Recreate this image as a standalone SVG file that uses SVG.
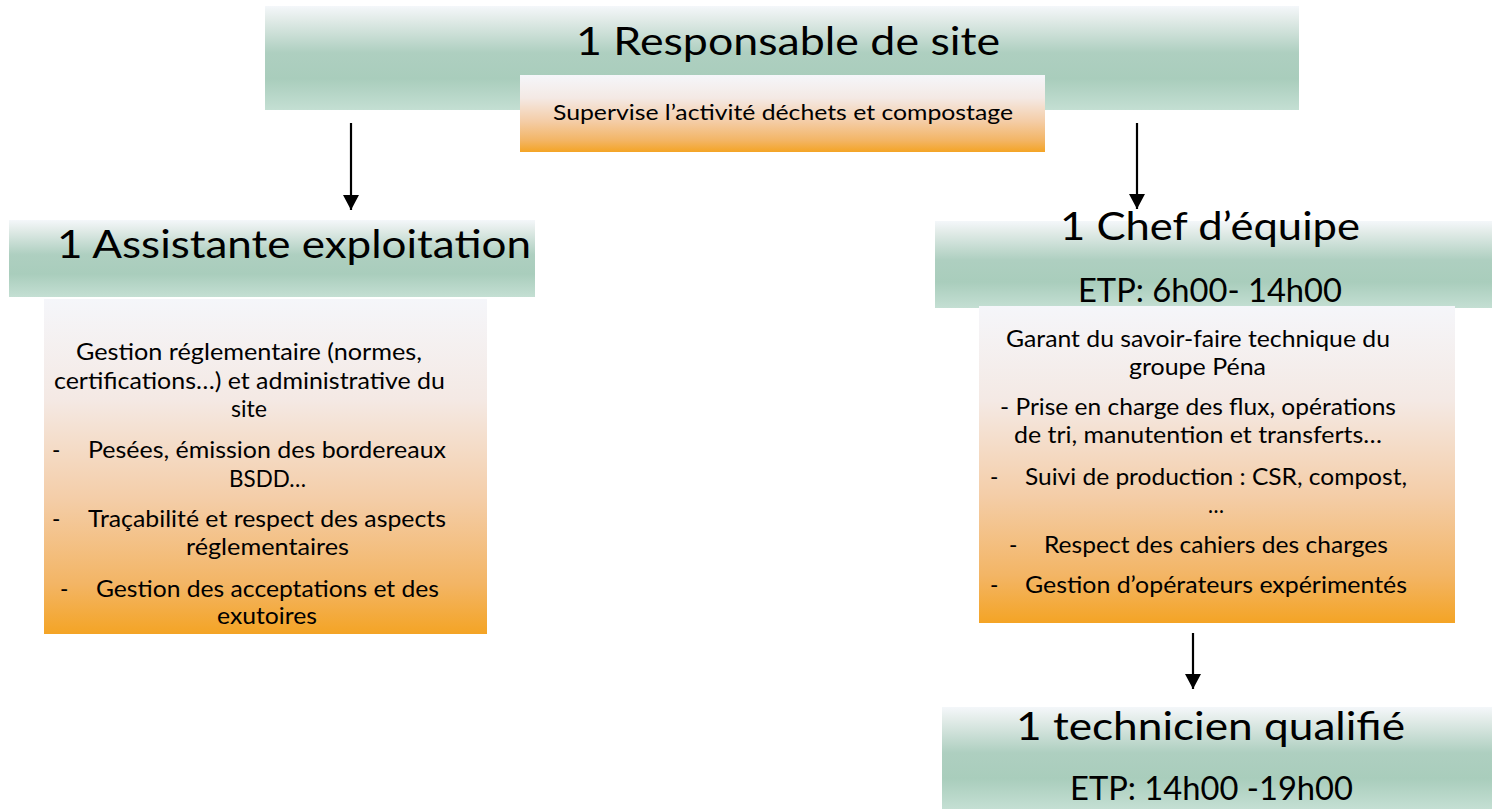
<svg xmlns="http://www.w3.org/2000/svg" width="1492" height="809" viewBox="0 0 1492 809">
<defs>
<linearGradient id="green" x1="0" y1="0" x2="0" y2="1">
<stop offset="0" stop-color="#f4f7fa"/>
<stop offset="0.12" stop-color="#e3ece9"/>
<stop offset="0.45" stop-color="#aecfc0"/>
<stop offset="0.7" stop-color="#a9cdbc"/>
<stop offset="1" stop-color="#c4dfd3"/>
</linearGradient>
<linearGradient id="orange" x1="0" y1="0" x2="0" y2="1">
<stop offset="0" stop-color="#f5f6fa"/>
<stop offset="0.3" stop-color="#f4e9e4"/>
<stop offset="0.6" stop-color="#f4cda7"/>
<stop offset="0.85" stop-color="#f3b565"/>
<stop offset="1" stop-color="#f4a425"/>
</linearGradient>
<marker id="arrow" markerWidth="15" markerHeight="16" refX="15" refY="8" orient="auto" markerUnits="userSpaceOnUse" viewBox="0 0 15 16">
<path d="M0,0 L15,8 L0,16 Z" fill="#000"/>
</marker>
</defs>
<style>
text{font-family:Lato,"Open Sans","Liberation Sans",sans-serif;fill:#000;}
.h{font-size:38px;}
.h2{font-size:32px;}
.b{font-size:22.5px;}
.s{font-size:21px;}
.conn{stroke:#000;stroke-width:2.2;fill:none;}
</style>
<rect width="1492" height="809" fill="#fff"/>

<g id="responsable">
<rect x="265" y="6" width="1034" height="104" fill="url(#green)"/>
<text class="h" x="576" y="55" textLength="424" lengthAdjust="spacingAndGlyphs">1 Responsable de site</text>
</g>
<g id="supervise">
<rect x="520" y="75" width="525" height="77" fill="url(#orange)"/>
<text class="s" x="553" y="120" textLength="460" lengthAdjust="spacingAndGlyphs">Supervise l’activité déchets et compostage</text>
</g>

<g id="assistante">
<rect x="9" y="220" width="526" height="77" fill="url(#green)"/>
<text class="h" x="57" y="258" font-size="40" textLength="474" lengthAdjust="spacingAndGlyphs">1 Assistante exploitation</text>
</g>
<g id="assistante-details">
<rect x="44" y="299" width="443" height="335" fill="url(#orange)"/>
<text class="b" x="76" y="360" textLength="346" lengthAdjust="spacingAndGlyphs">Gestion réglementaire (normes,</text>
<text class="b" x="54" y="389" textLength="391" lengthAdjust="spacingAndGlyphs">certifications…) et administrative du</text>
<text class="b" x="231" y="417" textLength="36" lengthAdjust="spacingAndGlyphs">site</text>
<text class="b" x="52" y="458">-</text>
<text class="b" x="88" y="458" textLength="358" lengthAdjust="spacingAndGlyphs">Pesées, émission des bordereaux</text>
<text class="b" x="229" y="487" textLength="77" lengthAdjust="spacingAndGlyphs">BSDD…</text>
<text class="b" x="52" y="527">-</text>
<text class="b" x="88" y="527" textLength="358" lengthAdjust="spacingAndGlyphs">Traçabilité et respect des aspects</text>
<text class="b" x="186" y="555" textLength="163" lengthAdjust="spacingAndGlyphs">réglementaires</text>
<text class="b" x="60" y="597">-</text>
<text class="b" x="96" y="597" textLength="343" lengthAdjust="spacingAndGlyphs">Gestion des acceptations et des</text>
<text class="b" x="217" y="624" textLength="100" lengthAdjust="spacingAndGlyphs">exutoires</text>
</g>

<g id="chef">
<rect x="935" y="221" width="557" height="87" fill="url(#green)"/>
<text class="h" x="1060" y="240" textLength="300" lengthAdjust="spacingAndGlyphs">1 Chef d’équipe</text>
<text class="h2" x="1078" y="302" textLength="264" lengthAdjust="spacingAndGlyphs">ETP: 6h00- 14h00</text>
</g>
<g id="chef-details">
<rect x="979" y="306" width="476" height="317" fill="url(#orange)"/>
<text class="b" x="1006" y="347" textLength="384" lengthAdjust="spacingAndGlyphs">Garant du savoir-faire technique du</text>
<text class="b" x="1129" y="375" textLength="137" lengthAdjust="spacingAndGlyphs">groupe Péna</text>
<text class="b" x="1000" y="415" textLength="396" lengthAdjust="spacingAndGlyphs">- Prise en charge des flux, opérations</text>
<text class="b" x="1014" y="443" textLength="368" lengthAdjust="spacingAndGlyphs">de tri, manutention et transferts…</text>
<text class="b" x="990" y="485">-</text>
<text class="b" x="1025" y="485" textLength="382" lengthAdjust="spacingAndGlyphs">Suivi de production : CSR, compost,</text>
<text class="b" x="1208" y="513" textLength="16" lengthAdjust="spacingAndGlyphs">…</text>
<text class="b" x="1009" y="553">-</text>
<text class="b" x="1044" y="553" textLength="344" lengthAdjust="spacingAndGlyphs">Respect des cahiers des charges</text>
<text class="b" x="990" y="593">-</text>
<text class="b" x="1025" y="593" textLength="382" lengthAdjust="spacingAndGlyphs">Gestion d’opérateurs expérimentés</text>
</g>

<g id="technicien">
<rect x="942" y="707" width="550" height="102" fill="url(#green)"/>
<text class="h" x="1016" y="740" textLength="389" lengthAdjust="spacingAndGlyphs">1 technicien qualifié</text>
<text class="h2" x="1070" y="800" textLength="283" lengthAdjust="spacingAndGlyphs">ETP: 14h00 -19h00</text>
</g>

<g id="connectors">
<line class="conn" x1="351" y1="123" x2="351" y2="210" marker-end="url(#arrow)"/>
<line class="conn" x1="1137" y1="123" x2="1137" y2="209" marker-end="url(#arrow)"/>
<line class="conn" x1="1193" y1="633" x2="1193" y2="689" marker-end="url(#arrow)"/>
</g>
</svg>
